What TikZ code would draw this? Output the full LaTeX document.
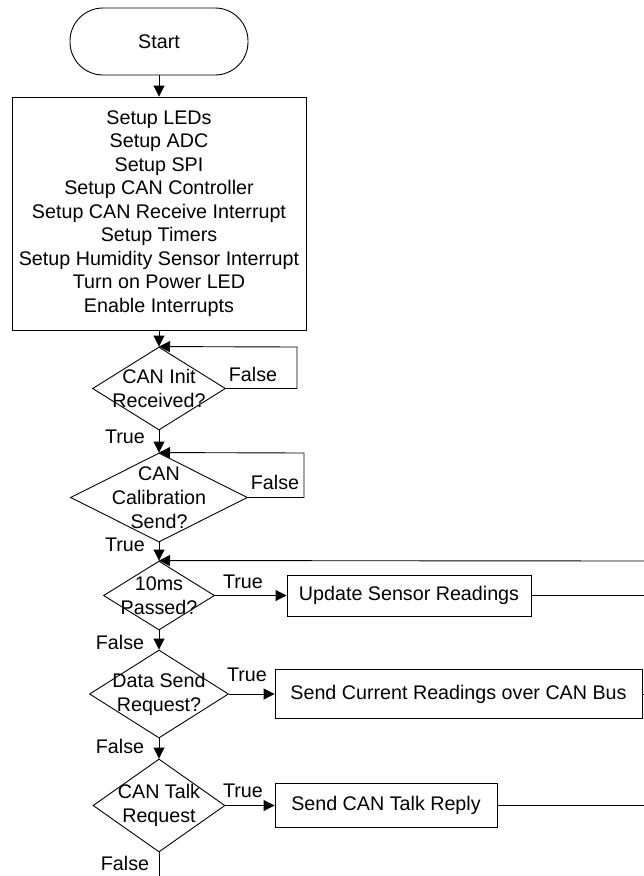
\documentclass[tikz,border=0pt]{standalone}
\usepackage{fontspec}
\setmainfont{Liberation Sans}
\usetikzlibrary{shapes.geometric,arrows.meta}
\begin{document}
\begin{tikzpicture}[x=1pt,y=-1pt,
  every node/.style={font=\fontsize{19.7}{23.5}\selectfont},
  line/.style={draw=black, line width=0.9pt},
  arr/.style={line, -{Triangle[length=11pt,width=11pt]}},
  proc/.style={draw, line width=0.9pt, rectangle, inner sep=0pt, align=center},
  dia/.style={draw, line width=0.9pt, diamond, inner sep=0pt},
  dtext/.style={align=center, inner sep=0pt, font=\fontsize{19.7}{24}\selectfont},
  lbl/.style={inner sep=0pt}]
\useasboundingbox (0,0) rectangle (644,876);

% start and init
\node[proc, rounded corners=33pt, minimum width=178pt, minimum height=67pt] (start) at (159,41.5) {Start};
\node[proc, minimum width=294pt, minimum height=233pt] (init) at (159,213.5)
  {Setup LEDs\\Setup ADC\\Setup SPI\\Setup CAN Controller\\Setup CAN Receive Interrupt\\Setup Timers\\Setup Humidity Sensor Interrupt\\Turn on Power LED\\Enable Interrupts};

% decisions
\node[dia, minimum width=133pt, minimum height=83pt] (d1) at (159,388.5) {};
\node[dtext] (d1t) at (d1) {CAN Init\\Received?};
\node[dia, minimum width=177pt, minimum height=89pt] (d2) at (159,497.5) {};
\node[dtext] (d2t) at (d2) {CAN\\Calibration\\Send?};
\node[dia, minimum width=111pt, minimum height=69pt] (d3) at (159,595.5) {};
\node[dtext] (d3t) at (d3) {10ms\\Passed?};
\node[dia, minimum width=139pt, minimum height=88pt] (d4) at (159,694) {};
\node[dtext] (d4t) at (d4) {Data Send\\Request?};
\node[dia, minimum width=132pt, minimum height=93pt] (d5) at (159,805.5) {};
\node[dtext] (d5t) at (d5) {CAN Talk\\Request};

% process boxes
\node[proc, minimum width=244pt, minimum height=41pt] (upd) at (409,595.5) {Update Sensor Readings};
\node[proc, minimum width=367pt, minimum height=49pt] (cur) at (458.5,694) {Send Current Readings over CAN Bus};
\node[proc, minimum width=222pt, minimum height=44pt] (talk) at (386,805.5) {Send CAN Talk Reply};

% coordinates
\coordinate (l1) at (297,347);
\coordinate (l2) at (304,453);
\coordinate (r0) at (644,561);
\coordinate (r1) at (644,595.5);
\coordinate (r2) at (644,694);
\coordinate (r3) at (644,805.5);
\coordinate (bot) at (159,876);

% connectors
\draw[arr] (start) -- (init);
\draw[arr] (init) -- (d1.north);
\draw[arr] (d1.east) -| (l1) -- (d1.north);
\draw[arr] (d1.south) -- (d2.north);
\draw[arr] (d2.east) -| (l2) -- (d2.north);
\draw[arr] (d2.south) -- (d3.north);
\draw[arr] (r0) -- (d3.north);
\draw[arr] (d3.east) -- (upd.west);
\draw[line] (upd.east) -- (r1);
\draw[arr] (d3.south) -- (d4.north);
\draw[arr] (d4.east) -- (cur.west);
\draw[line] (cur.east) -- (r2);
\draw[arr] (d4.south) -- (d5.north);
\draw[arr] (d5.east) -- (talk.west);
\draw[line] (talk.east) -- (r3);
\draw[line] (d5.south) -- (bot);

% labels
\node[lbl] (f1) at (253,374) {False};
\node[lbl] (t1) at (125,437) {True};
\node[lbl] (f2) at (275,482) {False};
\node[lbl] (t2) at (125,545) {True};
\node[lbl] (t3) at (243,582) {True};
\node[lbl] (f3) at (120,642) {False};
\node[lbl] (t4) at (247,675) {True};
\node[lbl] (f4) at (120,746) {False};
\node[lbl] (t5) at (243,791) {True};
\node[lbl] (f5) at (125,863) {False};
\end{tikzpicture}
\end{document}
